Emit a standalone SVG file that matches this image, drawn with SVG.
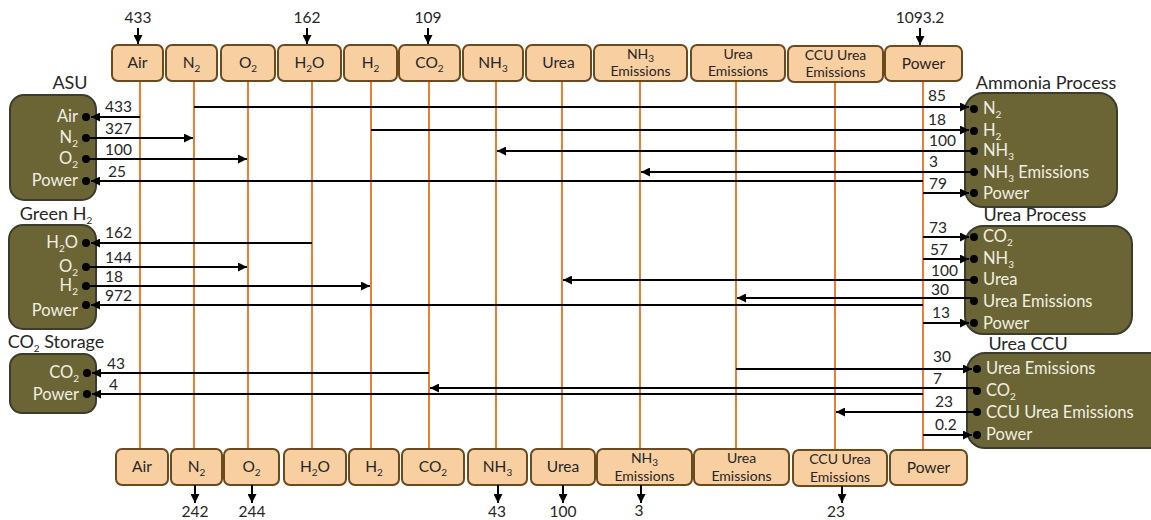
<svg xmlns="http://www.w3.org/2000/svg" width="1151" height="520" viewBox="0 0 1151 520">
<style>
.hb{fill:#F8CFA0;stroke:#6B4A1E;stroke-width:2}
.nb{fill:#6B6535;stroke:#3C3C2C;stroke-width:2}
.ol{stroke:#ED7D31;stroke-width:2}
.ln{stroke:#000;stroke-width:2;fill:none;marker-end:url(#ah)}
.ht{font-family:Lato,'Liberation Sans',sans-serif;font-size:15.5px;fill:#262626;text-anchor:middle}
.h2{font-family:Lato,'Liberation Sans',sans-serif;font-size:14px;fill:#262626;text-anchor:middle}
.sb{font-size:10px}
.pl{font-family:Lato,'Liberation Sans',sans-serif;font-size:16.5px;fill:#F0EFE2;text-anchor:end}
.pr{font-family:Lato,'Liberation Sans',sans-serif;font-size:16.5px;fill:#F0EFE2}
.num{font-family:Lato,'Liberation Sans',sans-serif;font-size:15.5px;fill:#262626}
.nc{font-family:Lato,'Liberation Sans',sans-serif;font-size:15.5px;fill:#262626;text-anchor:middle}
.tt{font-family:Lato,'Liberation Sans',sans-serif;font-size:18px;fill:#262626;text-anchor:middle}
.dot{fill:#000}
</style>
<defs>
<marker id="ah" viewBox="0 0 10 10" refX="10" refY="5" markerWidth="10" markerHeight="9" markerUnits="userSpaceOnUse" orient="auto"><path d="M0,0 L10,5 L0,10 z" fill="#000"/></marker>
</defs>

<g id="verticals">
<line class="ol" x1="140" y1="81" x2="140" y2="449"/>
<line class="ol" x1="194" y1="81" x2="194" y2="449"/>
<line class="ol" x1="248" y1="81" x2="248" y2="449"/>
<line class="ol" x1="312" y1="81" x2="312" y2="449"/>
<line class="ol" x1="371" y1="81" x2="371" y2="449"/>
<line class="ol" x1="429" y1="81" x2="429" y2="449"/>
<line class="ol" x1="496" y1="81" x2="496" y2="449"/>
<line class="ol" x1="562" y1="81" x2="562" y2="449"/>
<line class="ol" x1="640" y1="81" x2="640" y2="449"/>
<line class="ol" x1="736" y1="81" x2="736" y2="449"/>
<line class="ol" x1="835" y1="81" x2="835" y2="449"/>
<line class="ol" x1="923" y1="81" x2="923" y2="449"/>
</g>

<g id="header-top">
<rect class="hb" x="112" y="45" width="51" height="36" rx="6"/><text class="ht" x="137.5" y="68">Air</text>
<rect class="hb" x="166" y="45" width="51" height="36" rx="6"/><text class="ht" x="191.5" y="68">N<tspan class="sb" dy="4">2</tspan></text>
<rect class="hb" x="221" y="45" width="54" height="36" rx="6"/><text class="ht" x="248" y="68">O<tspan class="sb" dy="4">2</tspan></text>
<rect class="hb" x="278" y="45" width="63" height="36" rx="6"/><text class="ht" x="309.5" y="68">H<tspan class="sb" dy="4">2</tspan><tspan dy="-4">O</tspan></text>
<rect class="hb" x="344" y="45" width="53" height="36" rx="6"/><text class="ht" x="370.5" y="68">H<tspan class="sb" dy="4">2</tspan></text>
<rect class="hb" x="399" y="45" width="61" height="36" rx="6"/><text class="ht" x="429.5" y="68">CO<tspan class="sb" dy="4">2</tspan></text>
<rect class="hb" x="463" y="45" width="60" height="36" rx="6"/><text class="ht" x="493" y="68">NH<tspan class="sb" dy="4">3</tspan></text>
<rect class="hb" x="526" y="45" width="65" height="36" rx="6"/><text class="ht" x="558.5" y="68">Urea</text>
<rect class="hb" x="594" y="45" width="93" height="36" rx="6"/><text class="h2" x="640.5" y="59">NH<tspan class="sb" dy="3">3</tspan></text><text class="h2" x="640.5" y="76">Emissions</text>
<rect class="hb" x="691" y="45" width="94" height="36" rx="6"/><text class="h2" x="738" y="59">Urea</text><text class="h2" x="738" y="76">Emissions</text>
<rect class="hb" x="788" y="46" width="95" height="36" rx="6"/><text class="h2" x="835.5" y="60">CCU Urea</text><text class="h2" x="835.5" y="77">Emissions</text>
<rect class="hb" x="885" y="46" width="77" height="35" rx="6"/><text class="ht" x="923.5" y="69">Power</text>
</g>

<g id="header-bottom">
<rect class="hb" x="116" y="449" width="52" height="36" rx="6"/><text class="ht" x="142" y="472">Air</text>
<rect class="hb" x="171" y="449" width="51" height="36" rx="6"/><text class="ht" x="196.5" y="472">N<tspan class="sb" dy="4">2</tspan></text>
<rect class="hb" x="224" y="449" width="55" height="36" rx="6"/><text class="ht" x="251.5" y="472">O<tspan class="sb" dy="4">2</tspan></text>
<rect class="hb" x="284" y="449" width="62" height="36" rx="6"/><text class="ht" x="315" y="472">H<tspan class="sb" dy="4">2</tspan><tspan dy="-4">O</tspan></text>
<rect class="hb" x="349" y="449" width="50" height="36" rx="6"/><text class="ht" x="374" y="472">H<tspan class="sb" dy="4">2</tspan></text>
<rect class="hb" x="402" y="449" width="62" height="36" rx="6"/><text class="ht" x="433" y="472">CO<tspan class="sb" dy="4">2</tspan></text>
<rect class="hb" x="468" y="449" width="59" height="36" rx="6"/><text class="ht" x="497.5" y="472">NH<tspan class="sb" dy="4">3</tspan></text>
<rect class="hb" x="531" y="449" width="64" height="36" rx="6"/><text class="ht" x="563" y="472">Urea</text>
<rect class="hb" x="597" y="449" width="95" height="36" rx="6"/><text class="h2" x="644.5" y="463">NH<tspan class="sb" dy="3">3</tspan></text><text class="h2" x="644.5" y="481">Emissions</text>
<rect class="hb" x="694" y="449" width="95" height="36" rx="6"/><text class="h2" x="741.5" y="463">Urea</text><text class="h2" x="741.5" y="481">Emissions</text>
<rect class="hb" x="793" y="450" width="94" height="36" rx="6"/><text class="h2" x="840" y="464">CCU Urea</text><text class="h2" x="840" y="482">Emissions</text>
<rect class="hb" x="890" y="450" width="77" height="35" rx="6"/><text class="ht" x="928.5" y="473">Power</text>
</g>

<g id="node-asu">
<text class="tt" x="70" y="89">ASU</text>
<rect class="nb" x="10" y="95" width="86" height="105" rx="14"/>
<text class="pl" x="78" y="122">Air</text>
<text class="pl" x="78" y="143">N<tspan class="sb" dy="4">2</tspan></text>
<text class="pl" x="78" y="164">O<tspan class="sb" dy="4">2</tspan></text>
<text class="pl" x="78" y="186">Power</text>
<circle class="dot" cx="86" cy="117" r="4"/><circle class="dot" cx="86" cy="138" r="4"/><circle class="dot" cx="86" cy="159" r="4"/><circle class="dot" cx="86" cy="181" r="4"/>
</g>

<g id="node-greenh2">
<text class="tt" x="56" y="220">Green H<tspan class="sb" font-size="12" dy="4">2</tspan></text>
<rect class="nb" x="9" y="225" width="87" height="104" rx="14"/>
<text class="pl" x="78" y="248">H<tspan class="sb" dy="4">2</tspan><tspan dy="-4">O</tspan></text>
<text class="pl" x="78" y="272">O<tspan class="sb" dy="4">2</tspan></text>
<text class="pl" x="78" y="291">H<tspan class="sb" dy="4">2</tspan></text>
<text class="pl" x="78" y="316">Power</text>
<circle class="dot" cx="86" cy="243" r="4"/><circle class="dot" cx="86" cy="267" r="4"/><circle class="dot" cx="86" cy="286" r="4"/><circle class="dot" cx="86" cy="305" r="4"/>
</g>

<g id="node-co2storage">
<text class="tt" x="56" y="348">CO<tspan class="sb" font-size="12" dy="4">2</tspan><tspan dy="-4"> Storage</tspan></text>
<rect class="nb" x="10" y="354" width="86" height="59" rx="12"/>
<text class="pl" x="79" y="378">CO<tspan class="sb" dy="4">2</tspan></text>
<text class="pl" x="79" y="400">Power</text>
<circle class="dot" cx="87" cy="373" r="4"/><circle class="dot" cx="87" cy="394" r="4"/>
</g>

<g id="node-ammonia">
<text class="tt" x="1046" y="89">Ammonia Process</text>
<rect class="nb" x="965" y="93" width="152" height="114" rx="18"/>
<text class="pr" x="983" y="114">N<tspan class="sb" dy="4">2</tspan></text>
<text class="pr" x="983" y="136">H<tspan class="sb" dy="4">2</tspan></text>
<text class="pr" x="983" y="156">NH<tspan class="sb" dy="4">3</tspan></text>
<text class="pr" x="983" y="178">NH<tspan class="sb" dy="4">3</tspan><tspan dy="-4"> Emissions</tspan></text>
<text class="pr" x="983" y="199">Power</text>
<circle class="dot" cx="974" cy="109" r="4"/><circle class="dot" cx="974" cy="131" r="4"/><circle class="dot" cx="974" cy="151" r="4"/><circle class="dot" cx="974" cy="172" r="4"/><circle class="dot" cx="974" cy="193" r="4"/>
</g>

<g id="node-urea">
<text class="tt" x="1035" y="221">Urea Process</text>
<rect class="nb" x="965" y="226" width="167" height="108" rx="18"/>
<text class="pr" x="983" y="242">CO<tspan class="sb" dy="4">2</tspan></text>
<text class="pr" x="983" y="264">NH<tspan class="sb" dy="4">3</tspan></text>
<text class="pr" x="983" y="285">Urea</text>
<text class="pr" x="983" y="307">Urea Emissions</text>
<text class="pr" x="983" y="329">Power</text>
<circle class="dot" cx="974" cy="237" r="4"/><circle class="dot" cx="974" cy="259" r="4"/><circle class="dot" cx="974" cy="280" r="4"/><circle class="dot" cx="974" cy="301" r="4"/><circle class="dot" cx="974" cy="323" r="4"/>
</g>

<g id="node-ureaccu">
<text class="tt" x="1028" y="350">Urea CCU</text>
<rect class="nb" x="967" y="353" width="200" height="95" rx="18"/>
<text class="pr" x="986" y="374">Urea Emissions</text>
<text class="pr" x="986" y="396">CO<tspan class="sb" dy="4">2</tspan></text>
<text class="pr" x="986" y="418">CCU Urea Emissions</text>
<text class="pr" x="986" y="440">Power</text>
<circle class="dot" cx="977" cy="369" r="4"/><circle class="dot" cx="977" cy="391" r="4"/><circle class="dot" cx="977" cy="412" r="4"/><circle class="dot" cx="977" cy="435" r="4"/>
</g>

<g id="connectors">
<path class="ln" d="M138 28V44"/><path class="ln" d="M307 28V44"/><path class="ln" d="M428 28V44"/><path class="ln" d="M920 28V45"/>
<path class="ln" d="M195 485V503"/><path class="ln" d="M252 485V503"/><path class="ln" d="M498 485V503"/><path class="ln" d="M563 485V503"/><path class="ln" d="M641 485V503"/><path class="ln" d="M842 486V503"/>

<path class="ln" d="M140 117H91"/>
<path class="ln" d="M86 138H193"/>
<path class="ln" d="M86 159H247"/>
<path class="ln" d="M923 181H91"/>
<path class="ln" d="M312 243H91"/>
<path class="ln" d="M86 267H247"/>
<path class="ln" d="M86 286H370"/>
<path class="ln" d="M923 305H91"/>
<path class="ln" d="M429 373H92"/>
<path class="ln" d="M923 394H92"/>

<path class="ln" d="M194 107H969"/>
<path class="ln" d="M371 130H969"/>
<path class="ln" d="M972 151H497"/>
<path class="ln" d="M972 172H641"/>
<path class="ln" d="M923 193H969"/>
<path class="ln" d="M923 237H969"/>
<path class="ln" d="M923 259H969"/>
<path class="ln" d="M972 280H563"/>
<path class="ln" d="M972 298H737"/>
<path class="ln" d="M923 323H969"/>
<path class="ln" d="M736 369H972"/>
<path class="ln" d="M975 388H430"/>
<path class="ln" d="M975 412H836"/>
<path class="ln" d="M923 435H972"/>
</g>

<g id="flow-labels">
<text class="nc" x="138" y="23">433</text><text class="nc" x="307" y="23">162</text><text class="nc" x="428" y="23">109</text><text class="nc" x="920" y="23">1093.2</text>
<text class="nc" x="195" y="517">242</text><text class="nc" x="252" y="517">244</text><text class="nc" x="497" y="517">43</text><text class="nc" x="563" y="517">100</text><text class="nc" x="639" y="516">3</text><text class="nc" x="836" y="517">23</text>
<text class="num" x="105" y="112">433</text>
<text class="num" x="105" y="134">327</text>
<text class="num" x="105" y="155">100</text>
<text class="num" x="108" y="177">25</text>
<text class="num" x="105" y="238">162</text>
<text class="num" x="105" y="263">144</text>
<text class="num" x="105" y="282">18</text>
<text class="num" x="105" y="301">972</text>
<text class="num" x="107" y="369">43</text>
<text class="num" x="109" y="390">4</text>
<text class="num" x="928" y="101">85</text>
<text class="num" x="928" y="125">18</text>
<text class="num" x="929" y="146">100</text>
<text class="num" x="929" y="167">3</text>
<text class="num" x="929" y="189">79</text>
<text class="num" x="929" y="233">73</text>
<text class="num" x="930" y="255">57</text>
<text class="num" x="931" y="276">100</text>
<text class="num" x="931" y="295">30</text>
<text class="num" x="932" y="318">13</text>
<text class="num" x="933" y="362">30</text>
<text class="num" x="933" y="384">7</text>
<text class="num" x="935" y="407">23</text>
<text class="num" x="935" y="430">0.2</text>
</g>
</svg>
